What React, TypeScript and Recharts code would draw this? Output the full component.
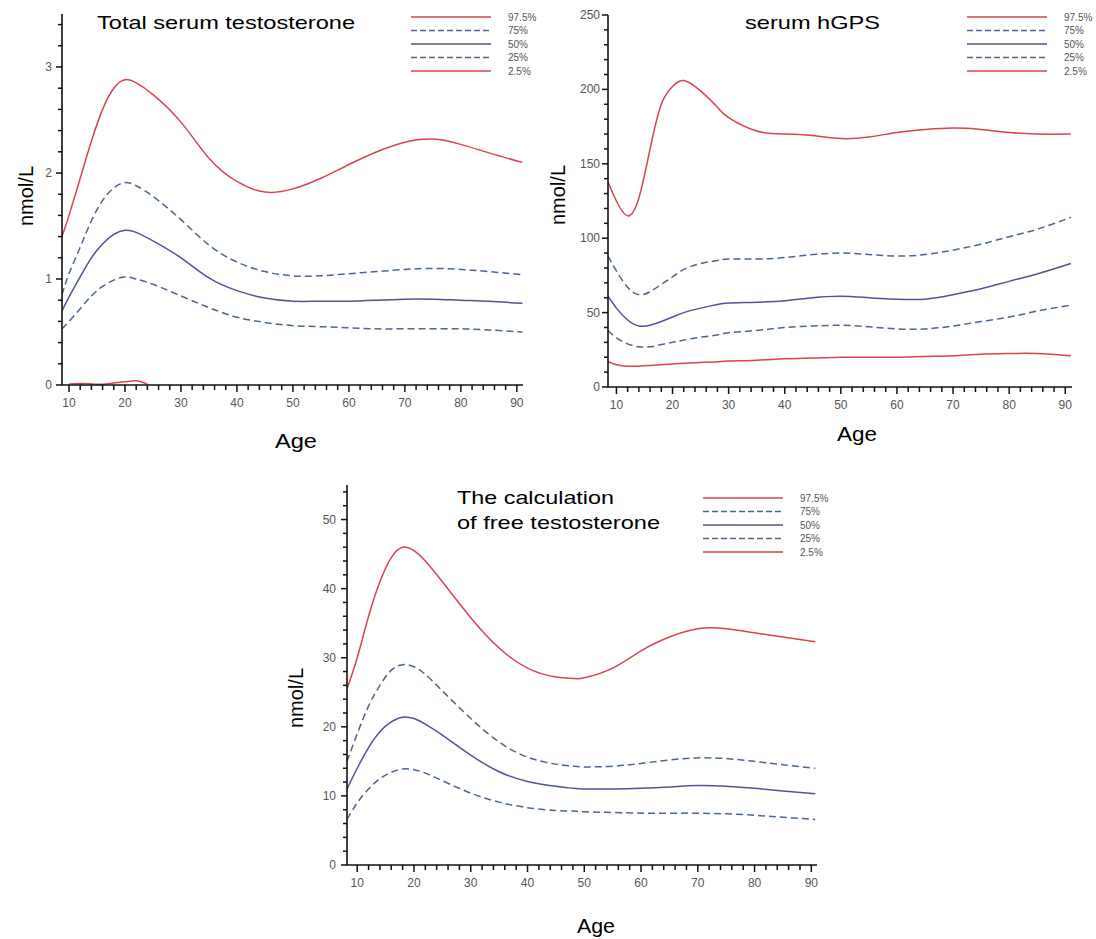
import React from 'react';
import { LineChart, Line, XAxis, YAxis, Legend } from 'recharts';

const FONT = '"Liberation Sans", Arial, Helvetica, sans-serif';
const RED = '#d9434e';
const NAVY = '#4b5596';
const DASHBLUE = '#4a6690';
const DASH = '7 4';
const CURVE = 'natural';

// ---------- Chart 1: Total serum testosterone ----------
const TT_AGES = [8.75, 10, 12, 14, 16, 18, 20, 22, 25, 30, 35, 40, 45, 50, 55, 60, 65, 70, 75, 80, 85, 91];
const TT_P975 = [1.4, 1.6, 1.95, 2.3, 2.6, 2.8, 2.88, 2.85, 2.74, 2.48, 2.14, 1.92, 1.82, 1.85, 1.95, 2.08, 2.2, 2.29, 2.32, 2.27, 2.19, 2.1];
const TT_P75 = [0.85, 1.05, 1.3, 1.55, 1.74, 1.86, 1.91, 1.88, 1.78, 1.56, 1.32, 1.16, 1.07, 1.03, 1.03, 1.05, 1.07, 1.09, 1.1, 1.09, 1.07, 1.04];
const TT_P50 = [0.7, 0.83, 1.02, 1.2, 1.33, 1.42, 1.46, 1.44, 1.36, 1.2, 1.01, 0.89, 0.82, 0.79, 0.79, 0.79, 0.8, 0.81, 0.81, 0.8, 0.79, 0.77];
const TT_P25 = [0.53, 0.6, 0.72, 0.84, 0.93, 0.99, 1.02, 1.0, 0.95, 0.84, 0.73, 0.64, 0.59, 0.56, 0.55, 0.54, 0.53, 0.53, 0.53, 0.53, 0.52, 0.5];
const TT_LOW_AGES = [10, 12, 14, 16, 18, 20, 22, 24];
const TT_P025 = [0.01, 0.015, 0.01, 0.008, 0.02, 0.03, 0.04, 0.008];
const TT_Y_TICKS = [0, 0.2, 0.4, 0.6, 0.8, 1, 1.2, 1.4, 1.6, 1.8, 2, 2.2, 2.4, 2.6, 2.8, 3, 3.2, 3.4];

// ---------- Chart 2: serum hGPS ----------
const GP_AGES = [8.5, 10, 12, 14, 16, 18, 20, 22, 25, 28, 30, 35, 40, 45, 50, 55, 60, 65, 70, 75, 80, 85, 91];
const GP_P975 = [138, 125, 115, 127, 160, 190, 202, 206, 199, 188, 181, 172, 170, 169, 167, 168, 171, 173, 174, 173, 171, 170, 170];
const GP_P75 = [88, 78, 67, 62, 64, 69, 74, 79, 83, 85, 86, 86, 87, 89, 90, 89, 88, 89, 92, 96, 101, 106, 114];
const GP_P50 = [61, 53, 45, 41, 41.5, 44, 47, 50, 53, 55.5, 56.5, 57, 58, 60, 61, 60, 59, 59, 62, 66, 71, 76, 83];
const GP_P25 = [38, 33, 29, 27, 27, 28.5, 30, 31.5, 33.5, 35, 36.5, 38, 40, 41, 41.5, 40.5, 39, 39, 41, 44, 47, 51, 55];
const GP_P025 = [17, 15, 14, 14, 14.5, 15, 15.5, 16, 16.5, 17, 17.5, 18, 19, 19.5, 20, 20, 20, 20.5, 21, 22, 22.5, 22.5, 21];
const GP_Y_TICKS = [0, 10, 20, 30, 40, 50, 60, 70, 80, 90, 100, 110, 120, 130, 140, 150, 160, 170, 180, 190, 200, 210, 220, 230, 240, 250];

// ---------- Chart 3: calculated free testosterone ----------
const FT_AGES = [8.2, 10, 12, 14, 16, 18, 20, 22, 25, 30, 35, 40, 45, 48, 50, 55, 60, 65, 70, 75, 80, 85, 90.7];
const FT_P975 = [25.5, 30, 36, 41, 44.5, 46, 45.5, 44, 41, 35.8, 31.4, 28.5, 27.2, 27, 27.1, 28.5, 31, 33, 34.2, 34.2, 33.6, 33, 32.3];
const FT_P75 = [15, 19, 23, 26, 28.2, 29, 28.7, 27.6, 25.2, 21.2, 17.8, 15.6, 14.6, 14.3, 14.2, 14.3, 14.7, 15.2, 15.5, 15.4, 15, 14.5, 14];
const FT_P50 = [11, 14, 17, 19.3, 20.7, 21.4, 21.2, 20.4, 18.8, 15.9, 13.5, 12.1, 11.4, 11.1, 11, 11, 11.1, 11.3, 11.5, 11.4, 11.1, 10.7, 10.3];
const FT_P25 = [6.6, 9, 11, 12.5, 13.4, 13.9, 13.8, 13.3, 12.2, 10.4, 9.1, 8.3, 7.9, 7.8, 7.7, 7.6, 7.5, 7.5, 7.5, 7.4, 7.2, 6.9, 6.6];
const FT_Y_TICKS = [0, 2, 4, 6, 8, 10, 12, 14, 16, 18, 20, 22, 24, 26, 28, 30, 32, 34, 36, 38, 40, 42, 44, 46, 48, 50, 52, 54];

const X_TICKS = [10, 12, 14, 16, 18, 20, 22, 24, 26, 28, 30, 32, 34, 36, 38, 40, 42, 44, 46, 48, 50, 52, 54, 56, 58, 60, 62, 64, 66, 68, 70, 72, 74, 76, 78, 80, 82, 84, 86, 88, 90];

const LEGEND_ITEMS = [
  { name: '97.5%', color: RED, dash: undefined as string | undefined },
  { name: '75%', color: DASHBLUE, dash: '6 3' },
  { name: '50%', color: NAVY, dash: undefined },
  { name: '25%', color: DASHBLUE, dash: '6 3' },
  { name: '2.5%', color: RED, dash: undefined },
];

const buildData = (ages: number[], p975: number[], p75: number[], p50: number[], p25: number[], p025?: number[]) =>
  ages.map((age, i) => ({
    age,
    p975: p975[i],
    p75: p75[i],
    p50: p50[i],
    p25: p25[i],
    ...(p025 ? { p025: p025[i] } : {}),
  }));

const TT_DATA = buildData(TT_AGES, TT_P975, TT_P75, TT_P50, TT_P25);
const TT_LOW_DATA = TT_LOW_AGES.map((age, i) => ({ age, p025: TT_P025[i] }));
const GP_DATA = buildData(GP_AGES, GP_P975, GP_P75, GP_P50, GP_P25, GP_P025);
const FT_DATA = buildData(FT_AGES, FT_P975, FT_P75, FT_P50, FT_P25);

const XTick = (props: any) => {
  const { x, y, payload } = props;
  const major = payload.value % 10 === 0;
  return (
    <g>
      <line x1={x} x2={x} y1={y} y2={y + (major ? 7 : 5)} stroke="#111" strokeWidth={1.5} />
      {major && (
        <text x={x} y={y + 18} textAnchor="middle" dominantBaseline="central" fontSize={12} fill="#555" fontFamily={FONT}>
          {payload.value}
        </text>
      )}
    </g>
  );
};

const makeYTick = (step: number, gap: number) => (props: any) => {
  const { x, y, payload } = props;
  const r = payload.value / step;
  const major = Math.abs(r - Math.round(r)) < 1e-6;
  return (
    <g>
      <line x1={x} x2={x - (major ? 6 : 4)} y1={y} y2={y} stroke="#111" strokeWidth={1.5} />
      {major && (
        <text x={x - gap} y={y} textAnchor="end" dominantBaseline="central" fontSize={12} fill="#555" fontFamily={FONT}>
          {payload.value}
        </text>
      )}
    </g>
  );
};

const LegendBox = () => (
  <svg width={140} height={66} style={{ display: 'block', overflow: 'visible' }}>
    {LEGEND_ITEMS.map((it, i) => (
      <g key={it.name}>
        <line x1={0} x2={80} y1={5 + i * 13.5} y2={5 + i * 13.5} stroke={it.color} strokeWidth={1.6} strokeDasharray={it.dash} />
        <text x={97} y={5 + i * 13.5} dominantBaseline="central" fontSize={10} fill="#555" fontFamily={FONT}>
          {it.name}
        </text>
      </g>
    ))}
  </svg>
);

type ChartProps = {
  left: number;
  top: number;
  width: number;
  height: number;
  marginTop: number;
  marginRight: number;
  yAxisWidth: number;
  xAxisHeight: number;
  xDomain: [number, number];
  yDomain: [number, number];
  yTicks: number[];
  yStep: number;
  yGap: number;
  data: any[];
  showLow: boolean;
  lowData?: any[];
  legendLeft: number;
  legendTop: number;
};

const PercentileChart = (p: ChartProps) => {
  const YTick = makeYTick(p.yStep, p.yGap);
  return (
    <div style={{ position: 'absolute', left: p.left, top: p.top }}>
      <LineChart
        width={p.width}
        height={p.height}
        data={p.data}
        margin={{ top: p.marginTop, right: p.marginRight, bottom: 0, left: 0 }}
      >
        <XAxis
          dataKey="age"
          type="number"
          domain={p.xDomain}
          allowDataOverflow
          ticks={X_TICKS}
          interval={0}
          tick={<XTick />}
          tickLine={false}
          tickSize={0}
          tickMargin={0}
          axisLine={{ stroke: '#111', strokeWidth: 1.6 }}
          height={p.xAxisHeight}
        />
        <YAxis
          type="number"
          domain={p.yDomain}
          allowDataOverflow
          ticks={p.yTicks}
          interval={0}
          tick={<YTick />}
          tickLine={false}
          tickSize={0}
          tickMargin={0}
          axisLine={{ stroke: '#111', strokeWidth: 1.6 }}
          width={p.yAxisWidth}
        />
        <Legend
          layout="vertical"
          align="center"
          verticalAlign="middle"
          content={() => <LegendBox />}
          wrapperStyle={{ left: p.legendLeft, top: p.legendTop, width: 140, height: 66 }}
        />
        <Line type={CURVE} dataKey="p975" name="97.5%" stroke={RED} strokeWidth={1.5} dot={false} isAnimationActive={false} />
        <Line type={CURVE} dataKey="p75" name="75%" stroke={DASHBLUE} strokeWidth={1.5} strokeDasharray={DASH} dot={false} isAnimationActive={false} />
        <Line type={CURVE} dataKey="p50" name="50%" stroke={NAVY} strokeWidth={1.5} dot={false} isAnimationActive={false} />
        <Line type={CURVE} dataKey="p25" name="25%" stroke={DASHBLUE} strokeWidth={1.5} strokeDasharray={DASH} dot={false} isAnimationActive={false} />
        {p.showLow && (
          <Line
            type={CURVE}
            data={p.lowData}
            dataKey="p025"
            name="2.5%"
            stroke={RED}
            strokeWidth={1.5}
            dot={false}
            isAnimationActive={false}
          />
        )}
      </LineChart>
    </div>
  );
};

const txt = { fontFamily: FONT, fill: '#000' } as const;

export default function App() {
  return (
    <div style={{ position: 'absolute', left: 0, top: 0, width: 1096, height: 939, background: '#fff', overflow: 'hidden' }}>
      <PercentileChart
        left={0}
        top={0}
        width={545}
        height={460}
        marginTop={14}
        marginRight={22}
        yAxisWidth={62}
        xAxisHeight={75}
        xDomain={[8.75, 91.1]}
        yDomain={[0, 3.5]}
        yTicks={TT_Y_TICKS}
        yStep={1}
        yGap={10}
        data={TT_DATA}
        showLow
        lowData={TT_LOW_DATA}
        legendLeft={411}
        legendTop={12}
      />
      <PercentileChart
        left={545}
        top={0}
        width={551}
        height={460}
        marginTop={15}
        marginRight={24}
        yAxisWidth={63}
        xAxisHeight={73}
        xDomain={[8.5, 91.2]}
        yDomain={[0, 250]}
        yTicks={GP_Y_TICKS}
        yStep={50}
        yGap={8}
        data={GP_DATA}
        showLow
        lowData={GP_DATA}
        legendLeft={967 - 545}
        legendTop={12}
      />
      <PercentileChart
        left={270}
        top={470}
        width={570}
        height={469}
        marginTop={15}
        marginRight={23}
        yAxisWidth={77}
        xAxisHeight={74}
        xDomain={[8.2, 91]}
        yDomain={[0, 55]}
        yTicks={FT_Y_TICKS}
        yStep={10}
        yGap={11}
        data={FT_DATA}
        showLow={false}
        legendLeft={703 - 270}
        legendTop={493 - 470}
      />
      <svg width={1096} height={939} style={{ position: 'absolute', left: 0, top: 0, pointerEvents: 'none' }}>
        <text {...txt} x={97} y={29} fontSize={19} textLength={258} lengthAdjust="spacingAndGlyphs">Total serum testosterone</text>
        <text {...txt} x={745} y={29} fontSize={19} textLength={135} lengthAdjust="spacingAndGlyphs">serum hGPS</text>
        <text {...txt} x={457} y={504} fontSize={19} textLength={157} lengthAdjust="spacingAndGlyphs">The calculation</text>
        <text {...txt} x={457} y={529} fontSize={19} textLength={203} lengthAdjust="spacingAndGlyphs">of free testosterone</text>

        <text {...txt} x={275} y={448} fontSize={20} textLength={42} lengthAdjust="spacingAndGlyphs">Age</text>
        <text {...txt} x={837} y={441} fontSize={20} textLength={40} lengthAdjust="spacingAndGlyphs">Age</text>
        <text {...txt} x={577} y={933} fontSize={20} textLength={38} lengthAdjust="spacingAndGlyphs">Age</text>

        <text {...txt} x={33} y={196} fontSize={20} textAnchor="middle" transform="rotate(-90 33 196)">nmol/L</text>
        <text {...txt} x={565} y={195} fontSize={20} textAnchor="middle" transform="rotate(-90 565 195)">nmol/L</text>
        <text {...txt} x={303} y={698} fontSize={20} textAnchor="middle" transform="rotate(-90 303 698)">nmol/L</text>
      </svg>
    </div>
  );
}
